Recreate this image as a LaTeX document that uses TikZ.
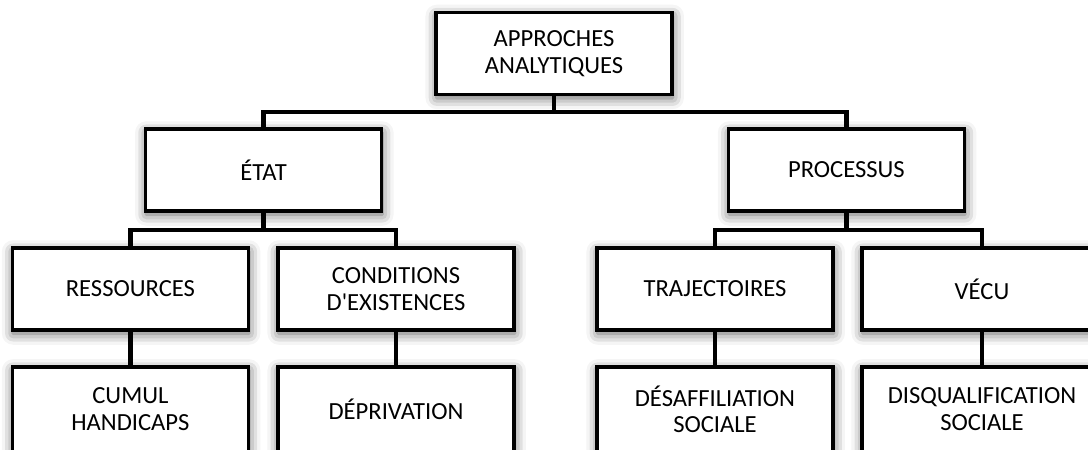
\documentclass[tikz,border=0pt]{standalone}
\usepackage{fontspec}
\setmainfont{Carlito}
\usetikzlibrary{shadows.blur}

\tikzset{
  box/.style={draw=black, line width=2.3pt, fill=white, align=center,
    minimum width=5.9cm, minimum height=2.05cm, inner sep=2pt,
    font=\fontsize{17.5}{19}\selectfont,
    blur shadow={shadow xshift=0.5pt, shadow yshift=-2.5pt,
      shadow blur radius=8pt, shadow opacity=65}},
  leaf/.style={box, minimum height=2.125cm},
  link/.style={line width=3.4pt, line join=miter}
}

\begin{document}
\begin{tikzpicture}
  \useasboundingbox (0,0) rectangle (27.2,11.225);
  \clip (0,0) rectangle (27.2,11.225);
  % niveau 1
  \node[box] (top) at (13.85, 9.89) {APPROCHES\\ANALYTIQUES};
  % niveau 2
  \node[box] (etat) at (6.59, 6.975)  {ÉTAT};
  \node[box] (proc) at (21.16, 6.975) {PROCESSUS};
  % niveau 3
  \node[box] (res)  at (3.26, 4.0)   {RESSOURCES};
  \node[box] (cond) at (9.90, 4.0)   {CONDITIONS\\D\textquotesingle EXISTENCES};
  \node[box] (traj) at (17.875, 4.0) {TRAJECTOIRES};
  \node[box, minimum width=6.0cm] (vecu) at (24.55, 4.0) {VÉCU};
  % niveau 4
  \node[leaf] (cumul) at (3.26, 0.99)   {CUMUL\\HANDICAPS};
  \node[leaf] (depr)  at (9.90, 0.99)   {DÉPRIVATION};
  \node[leaf] (desaf) at (17.875, 0.99) {DÉSAFFILIATION\\SOCIALE};
  \node[leaf, minimum width=6.0cm] (disq) at (24.55, 0.99) {DISQUALIFICATION\\SOCIALE};
  % liaisons
  \coordinate (busA) at (13.85, 8.425);
  \coordinate (busB) at (6.59, 5.475);
  \coordinate (busC) at (21.16, 5.475);
  \draw[link] (top.south) -- (busA);
  \draw[link] (etat.north) |- (busA) -| (proc.north);
  \draw[link] (etat.south) -- (busB);
  \draw[link] (res.north) |- (busB) -| (cond.north);
  \draw[link] (proc.south) -- (busC);
  \draw[link] (traj.north) |- (busC) -| (vecu.north);
  \draw[link] (res.south) -- (cumul.north);
  \draw[link] (cond.south) -- (depr.north);
  \draw[link] (traj.south) -- (desaf.north);
  \draw[link] (vecu.south) -- (disq.north);
\end{tikzpicture}
\end{document}
